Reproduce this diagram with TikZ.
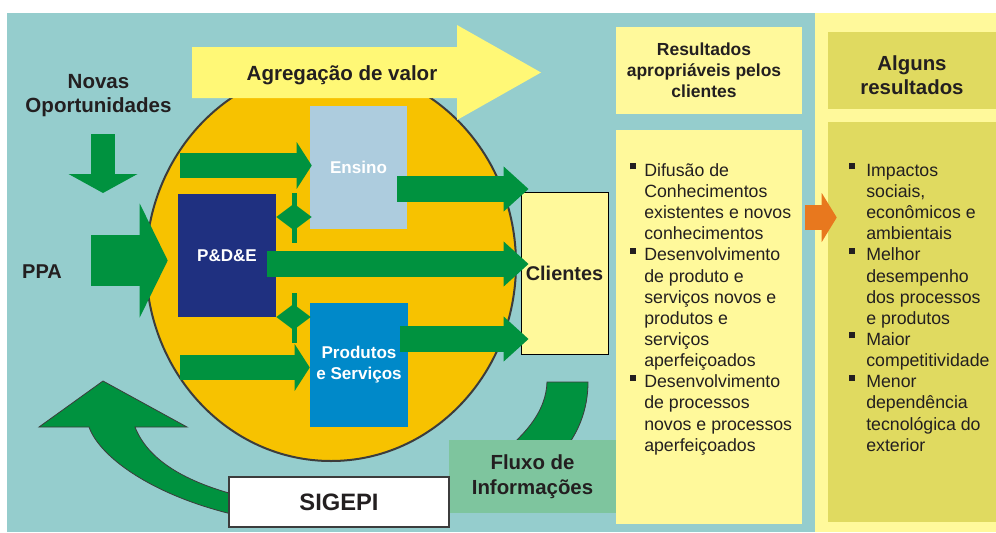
\documentclass[tikz,border=0pt]{standalone}
\usepackage{fontspec}
\setmainfont{Liberation Sans}
\usetikzlibrary{arrows.meta, calc}
\definecolor{panelteal}{RGB}{149,205,205}
\definecolor{panelyel}{RGB}{255,249,155}
\definecolor{ovalyel}{RGB}{247,194,0}
\definecolor{flowgreen}{RGB}{0,146,63}
\definecolor{ensblue}{RGB}{173,204,222}
\definecolor{pdenavy}{RGB}{31,48,128}
\definecolor{prodblue}{RGB}{0,137,201}
\definecolor{valueyel}{RGB}{255,248,118}
\definecolor{infogreen}{RGB}{126,197,158}
\definecolor{olive}{RGB}{224,218,96}
\definecolor{resorange}{RGB}{232,120,30}
\definecolor{ink}{RGB}{35,31,32}
\definecolor{rim}{RGB}{60,60,60}
\tikzstyle{unitbox} = [rectangle, inner sep=0pt, align=center, text=white, font=\fontsize{12.8}{15.75}\selectfont\bfseries]
\tikzstyle{panelbox} = [rectangle, inner sep=0pt, fill=panelyel]
\tikzstyle{headtxt} = [inner sep=0pt, align=center, text=ink, font=\fontsize{13.1}{15.75}\selectfont\bfseries]
\tikzstyle{bigtxt} = [inner sep=0pt, align=center, text=ink, font=\fontsize{15.4}{18}\selectfont\bfseries]
\tikzstyle{listtxt} = [inner sep=0pt, align=left, anchor=north west, text=ink, font=\fontsize{13.3}{15.86}\selectfont]
\tikzstyle{flow} = [draw=flowgreen, line width=19.5pt, -{Triangle[length=18.75pt, width=34pt, line width=0pt]}]
\tikzstyle{flowin} = [draw=flowgreen, line width=18.75pt, -{Triangle[length=11.25pt, width=35pt, line width=0pt]}]
\tikzstyle{twoway} = [draw=flowgreen, line width=1pt, {Triangle[length=13pt, width=19.5pt, line width=0pt]}-{Triangle[length=13pt, width=19.5pt, line width=0pt]}]
\tikzstyle{stem} = [draw=flowgreen, line width=3.75pt]
\tikzstyle{ppaflow} = [draw=flowgreen, line width=38.25pt, -{Triangle[length=21pt, width=85.5pt, line width=0pt]}]
\tikzstyle{downflow} = [draw=flowgreen, line width=18pt, -{Triangle[length=14.25pt, width=51.75pt, line width=0pt]}]
\tikzstyle{outflow} = [draw=resorange, line width=18.75pt, -{Triangle[length=11.25pt, width=36.75pt, line width=0pt]}]
\tikzstyle{cycleflow} = [fill=flowgreen, draw=rim, line width=0.6pt]
\newcommand{\bulitem}[1]{\llap{\rule[5.25pt]{4.5pt}{4.5pt}\hspace{#1}}}

\begin{document}
\begin{tikzpicture}[x=0.75pt, y=-0.75pt]
% panels
\fill[white] (0,0) rectangle (996,532);
\fill[panelteal] (7,13) rectangle (815,532);
\fill[panelyel] (815,13) rectangle (996,532);
\node (res) [panelbox, minimum width=139.5pt, minimum height=65.25pt] at (709,70.5) {};
\node (reslist) [panelbox, minimum width=139.5pt, minimum height=295.5pt] at (709,327) {};
\node (alg) [panelbox, fill=olive, minimum width=126pt, minimum height=57.75pt] at (912,70.5) {};
\node (alglist) [panelbox, fill=olive, minimum width=126pt, minimum height=300pt] at (912,322) {};

% oval and value arrow
\draw[fill=ovalyel, draw=rim, line width=1.5pt] (331,264) ellipse [x radius=185, y radius=197];
\fill[valueyel] (192,47) -- (457,47) -- (457,25) -- (541,72.5) -- (457,120) -- (457,98) -- (192,98) -- cycle;
\node (agr) [bigtxt] at (342,75.5) {Agregação de valor};

\node (ens) [unitbox, fill=ensblue, minimum width=72.75pt, minimum height=92.25pt] at (358.5,167.5) {Ensino};
\node (pde) [unitbox, fill=pdenavy, minimum width=73.5pt, minimum height=92.25pt] at (227,255.5) {P\&D\&E};
\node (prod) [unitbox, fill=prodblue, minimum width=73.5pt, minimum height=93pt] at (359,365) {Produtos\\e Serviços};
\node (cli) [rectangle, draw=black, line width=0.75pt, fill=panelyel, inner sep=0pt, minimum width=65.25pt, minimum height=121.5pt, text=ink, font=\fontsize{14.9}{18}\selectfont\bfseries] at (564.5,273) {Clientes};

\coordinate (ensin) at (180,165.5);
\coordinate (prodin) at (180,367.5);
\draw[flowin] (ensin) -- ($(ens.west)+(2,-2)$);
\draw[flowin] (prodin) -- ($(prod.west)+(0,2.5)$);
\draw[twoway] ($(pde.east)+(0,-38.5)$) -- ($(ens.west)+(2,49.5)$);
\draw[stem] (294,193) -- (294,243);
\draw[twoway] ($(pde.east)+(0,61.5)$) -- ($(prod.west)+(1,-48)$);
\draw[stem] (294,293) -- (294,343);
\draw[flow] ($(ens.east)+(-10,21.5)$) -- ($(cli.west)+(8,-84)$);
\draw[flow] ($(pde.east)+(-9,8.5)$) -- ($(cli.west)+(8,-9)$);
\draw[flow] ($(prod.east)+(-8,-26)$) -- ($(cli.west)+(8,66)$);

\node (ppa) [bigtxt, font=\fontsize{15}{18}\selectfont\bfseries] at (42,272) {PPA};
\draw[ppaflow] ($(ppa.east)+(29,-11.5)$) -- ($(pde.west)+(-10,5)$);
\node (novas) [bigtxt] at (98.5,96) {Novas\\Oportunidades};
\coordinate (novtip) at (103,193);
\draw[downflow] ($(novas.south -| novtip)+(0,17)$) -- (novtip);

% information cycle
\draw[cycleflow] (135,427) .. controls (148,460) and (185,482) .. (240,496) -- (240,516) .. controls (155,497) and (100,458) .. (89,427) -- (39,427) -- (103,381) -- (187,427) -- cycle;
\draw[cycleflow] (547,382) -- (588,382) .. controls (588,410) and (578,435) .. (560,455) -- (500,455) .. controls (528,432) and (546,410) .. (547,382) -- cycle;
\node (fluxo) [rectangle, fill=infogreen, inner sep=0pt, minimum width=125.25pt, minimum height=54.75pt, align=center, text=ink, font=\fontsize{15.3}{18.75}\selectfont\bfseries] at (532.5,476.5) {Fluxo de\\Informações};
\node (sigepi) [rectangle, fill=white, draw=rim, line width=1pt, inner sep=0pt, minimum width=165pt, minimum height=37.5pt, text=ink, font=\fontsize{17.8}{20}\selectfont\bfseries] at (339,502) {SIGEPI};

% results
\node (restxt) [headtxt] at (704,70.5) {Resultados\\apropriáveis pelos\\clientes};
\node (algtxt) [bigtxt, font=\fontsize{15.3}{18}\selectfont\bfseries] at (912,75.6) {Alguns\\resultados};
\draw[outflow] ($(reslist.east)+(3,-109.5)$) -- ($(alglist.west)+(9,-104.5)$);
\node (reltxt) [listtxt] at (644,162.7) {\bulitem{6pt}\rule{0pt}{10pt}Difusão de\\Conhecimentos\\existentes e novos\\conhecimentos\\\bulitem{6pt}Desenvolvimento\\de produto e\\serviços novos e\\produtos e\\serviços\\aperfeiçoados\\\bulitem{6pt}Desenvolvimento\\de processos\\novos e processos\\aperfeiçoados};
\node (impl) [listtxt] at (866,162.7) {\bulitem{8.25pt}\rule{0pt}{10pt}Impactos\\sociais,\\econômicos e\\ambientais\\\bulitem{8.25pt}Melhor\\desempenho\\dos processos\\e produtos\\\bulitem{8.25pt}Maior\\competitividade\\\bulitem{8.25pt}Menor\\dependência\\tecnológica do\\exterior};
\end{tikzpicture}
\end{document}
